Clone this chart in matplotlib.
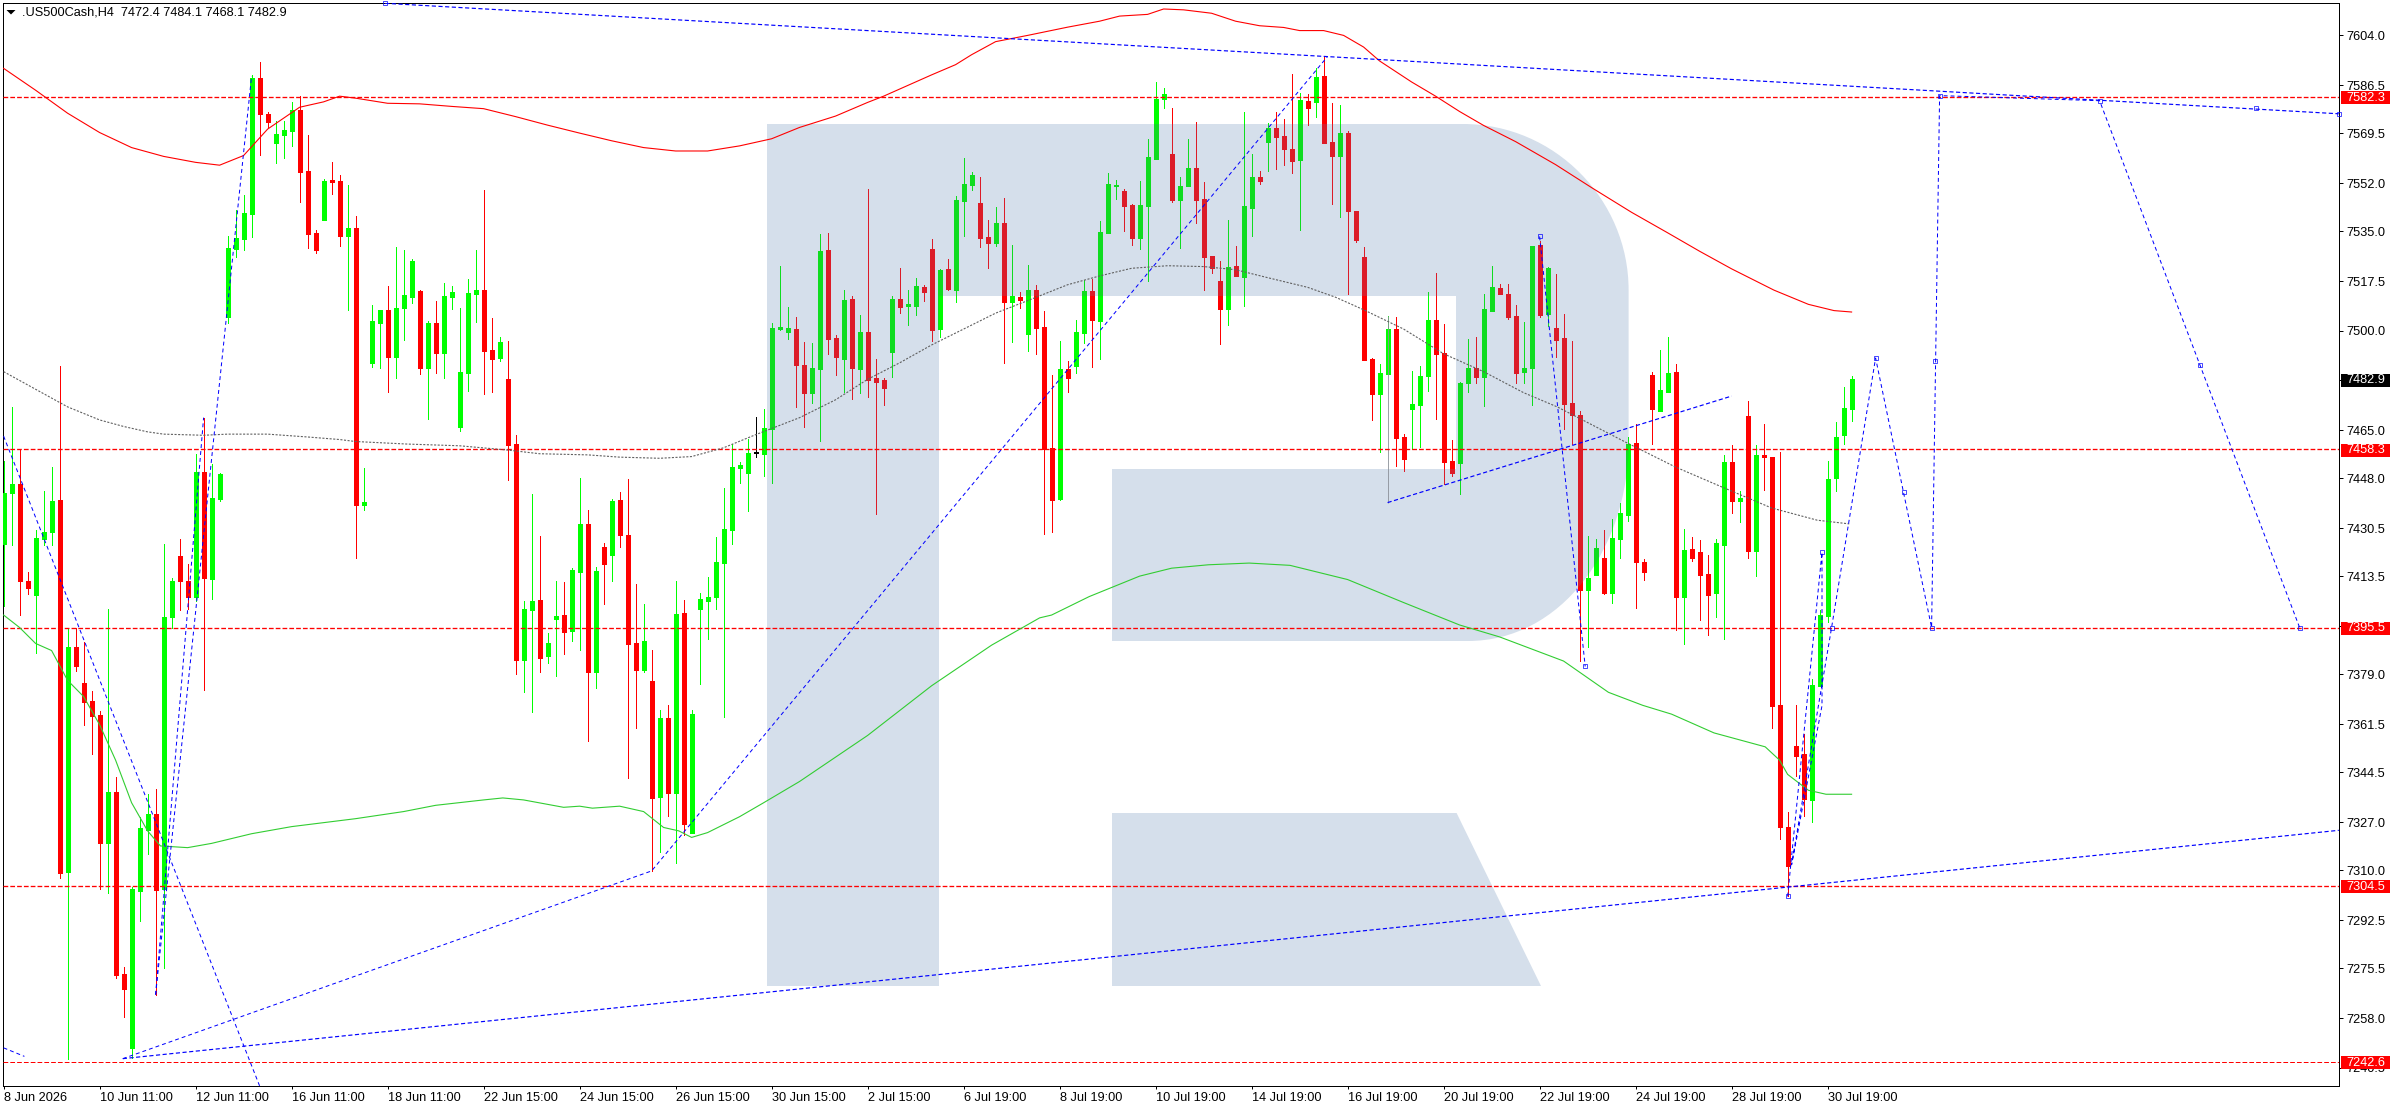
import matplotlib
matplotlib.use("Agg")
import matplotlib.pyplot as plt
from matplotlib.path import Path
from matplotlib.patches import PathPatch, Rectangle, Polygon
from matplotlib.transforms import Affine2D, blended_transform_factory

plt.rcParams['font.family'] = ['Liberation Sans', 'DejaVu Sans']
plt.rcParams['lines.scale_dashes'] = False

opens = [7425,7443,7446,7412,7406.8,7426.7,7429,7440.4,7309.5,7388.7,
7376,7369.7,7364.8,7319.5,7337.6,7273.4,7247.6,7302.7,7324.3,7330,
7303.3,7399.3,7420.7,7412,7406.1,7450.3,7412.6,7440.8,7505,7528.9,
7532.4,7541,7589,7576.4,7566.1,7569,7570.4,7577.7,7556.3,7534.5,
7539,7553,7552.8,7533.4,7536.2,7438.6,7488.6,7502.7,7507.3,7490.7,
7508,7512,7514,7486.9,7502.7,7492.2,7512,7466.2,7485.1,7512.9,
7514.3,7493.2,7490.4,7483,7460.2,7384.1,7401.8,7405.3,7385.6,7398.4,
7399.9,7394.3,7415.2,7432,7380,7424,7421,7440.4,7428.2,7389.9,
7380.6,7376.7,7335.8,7363.6,7337.3,7400.7,7323.3,7402,7404.9,7406.3,
7418.4,7429.9,7451.7,7450,7456.8,7456.6,7465.4,7500.6,7499.7,7500.6,
7487.9,7478.2,7486.5,7528.5,7497.5,7490.1,7511.2,7486.5,7499.6,7483.3,
7482.6,7492.6,7511.2,7508.8,7508.8,7515.5,7528.9,7500.7,7521.8,7514.4,
7545.7,7551.3,7545,7533,7530.9,7538,7510.2,7512,7498.7,7514.3,
7501.3,7458.6,7440.8,7486.5,7487.7,7499.3,7514,7503.4,7534.5,7550.8,
7549.2,7544.3,7532.7,7544,7560.5,7581.6,7562.3,7546,7551,7557.3,
7546.4,7526.4,7517.5,7507.7,7522.8,7519,7543.3,7554.2,7566.5,7571.4,
7568.6,7564,7560.2,7581,7580.6,7589.7,7566.5,7561.5,7569.6,7542.2,
7526,7490.1,7477.8,7484.9,7500.7,7462.6,7472.3,7473.9,7484.1,7503.8,
7492.2,7454.2,7453.5,7481.6,7486.9,7483.8,7506.9,7515,7512.9,7505.2,
7485.5,7486.9,7530.2,7505.9,7501,7497.5,7474.4,7470.4,7408.6,7413.9,
7420,7407.8,7426.7,7435.1,7460.4,7418.6,7484.4,7471.9,7478.5,7485.5,
7406.4,7423,7422,7414.2,7407.6,7424.5,7453.8,7440.1,7470,7422.3,
7456.3,7455.6,7368.3,7325.4,7353.8,7351,7334.8,7375,7399.7,7448.2,
7463.2,7472.4]

highs = [7454,7473,7458.5,7415,7430,7443.6,7452,7487.5,7395.5,7395.5,
7390.3,7373.1,7366,7402,7343,7275.9,7304,7328.9,7337,7338.8,
7425,7413,7426.7,7418,7456.6,7469.4,7453,7450,7533.4,7542.5,
7547.7,7590,7594.7,7577,7573.7,7574,7580.6,7582.6,7569,7535.5,
7553.5,7559.4,7555,7551.3,7540.5,7451.7,7509,7507.3,7515.8,7529.5,
7528.5,7525.3,7514.3,7503.4,7510.6,7516.8,7515.8,7508,7518.3,7528.5,
7549.6,7504.6,7497.8,7496.5,7463.2,7404.9,7442.4,7427.8,7393.7,7411.8,
7411.4,7416.6,7448.2,7436.9,7416.9,7425.4,7440.7,7443.3,7447.7,7410.9,
7403.9,7387.7,7366.5,7368.1,7412,7405.3,7366.5,7407.6,7413.4,7427.3,
7444.5,7460,7453.8,7462,7469.7,7472.3,7502.7,7522.8,7508.4,7504.7,
7496.2,7495.6,7534.2,7534.5,7498.6,7514.3,7512.3,7505.6,7550,7490,
7483.4,7512.3,7522.1,7514.3,7518.7,7516.2,7532.4,7521.8,7525.3,7547.3,
7560.9,7555.9,7554.2,7539,7543.5,7546.8,7530.2,7513.7,7523,7516.2,
7506.8,7484.4,7496.3,7489.4,7503.7,7518,7518.4,7538.6,7555.4,7553,
7550,7544.8,7552.9,7567.5,7587.6,7585.5,7578.5,7554.2,7567.5,7573.4,
7552.3,7526.4,7524.5,7539,7529.9,7577.1,7562.3,7556.3,7573,7577.2,
7574.7,7590.4,7583.7,7583.5,7592.6,7596.6,7580.1,7579.5,7570.4,7542.2,
7529.5,7490.4,7488.4,7505.2,7504.7,7463.6,7485.9,7487.5,7513.7,7520.4,
7502.5,7461.6,7482.1,7497.1,7497.8,7512.8,7522.8,7516.4,7516.4,7509,
7503.1,7529.9,7531.7,7522.6,7519.9,7505.9,7496.5,7471.7,7427.7,7426.7,
7429.9,7433.7,7439.5,7462.6,7467.3,7419.6,7485.6,7493.1,7497.8,7488.4,
7430.2,7427.4,7426.2,7421,7426.7,7456.3,7459.8,7443.5,7475.3,7459.7,
7467,7455.6,7457.3,7330.5,7368.1,7357.9,7377.5,7401.8,7454.1,7468,
7480.3,7484.1]

lows = [7403,7424.5,7400,7407.4,7386.6,7424.5,7424.5,7307.4,7243.7,7380.2,
7361.3,7351,7303.6,7302,7272,7258.4,7244.1,7292.3,7315.8,7266,
7275.6,7395.2,7401.8,7402,7405,7373.4,7405.5,7440,7502.8,7526,
7528.6,7533,7562,7571.6,7558.9,7561,7565,7545.2,7529.3,7527.4,
7539,7548.2,7529.9,7507.3,7419.9,7437,7487.2,7486.9,7478.5,7483.4,
7496.6,7509.6,7484.6,7469,7485.1,7483.4,7507.7,7464.7,7478.8,7503.1,
7477.9,7478.5,7489.4,7447.5,7379.2,7372.9,7365.9,7379.8,7383.1,7378.5,
7386.2,7390.8,7387.7,7355.7,7374.2,7403.9,7411.8,7424,7342.6,7360.1,
7380,7309.8,7316.6,7329.1,7312.7,7322.6,7323.3,7375.7,7391.6,7402,
7364,7424.9,7446.4,7436.5,7455.7,7449,7446.4,7500.3,7497.2,7473.2,
7466,7474.4,7461.2,7491.9,7484.4,7478.4,7476,7478.2,7476.6,7435.5,
7473.9,7483.8,7506.2,7502.1,7505.6,7510.5,7496.5,7497.8,7514.3,7510.2,
7533.4,7549.6,7529.5,7522.1,7529.9,7488.6,7496.2,7508.1,7492.9,7491.9,
7428.5,7429.2,7440.4,7478.5,7485.3,7495.8,7487.4,7490.1,7534.5,7546.4,
7535.1,7530.2,7528.9,7517.5,7560.5,7578.5,7545.2,7529.3,7551,7538,
7514.3,7520.3,7495.3,7502.1,7519.3,7508.7,7533.4,7551.7,7556.3,7557,
7558.5,7555.6,7535.5,7572.6,7575.1,7566.1,7544.7,7540.1,7513,7531.4,
7489.7,7468.6,7457.3,7484.9,7452.5,7450.7,7458.5,7459.1,7478.8,7468.8,
7446.1,7448.9,7442.6,7478.4,7481.6,7473.5,7506.9,7513,7504,7481.6,
7481.6,7474,7505,7501.8,7490.6,7465.4,7460.1,7383.7,7388.7,7413.9,
7407.4,7404.3,7420,7433,7402.4,7412.1,7460.3,7471.9,7478.5,7394.7,
7389.6,7419,7398.3,7392.7,7399.3,7391.4,7435.8,7432.6,7419.9,7413.6,
7443.9,7360.3,7321.1,7300.8,7343.2,7329.2,7327,7375,7397.4,7443.6,
7460.3,7468.1]

closes = [7443,7446,7412,7409.3,7427,7429,7440,7308.9,7388.7,7382,
7369.4,7364.4,7319.5,7337.6,7273,7268.4,7303.3,7325,7330,7303,
7399.3,7412,7412,7406.4,7450.3,7413,7441,7449.5,7529,7532.7,
7541.5,7589,7576.4,7573.5,7569.3,7570.8,7577.7,7556,7534.2,7528.6,
7552.8,7552.4,7533.4,7536.2,7438.6,7439.8,7503.4,7507.3,7490.7,7508,
7512.7,7524.6,7486.9,7502.7,7492.2,7512.3,7513.7,7485.5,7513.3,7514.3,
7492.9,7490.1,7496.1,7459.8,7384.1,7402,7404.9,7384.8,7389.9,7399.7,
7393.9,7415.9,7432,7380,7415.5,7418,7440.1,7428,7389.6,7380.6,
7390.6,7335.5,7363.6,7337.3,7400.3,7326.4,7365.1,7405.6,7406.3,7418.6,
7430.2,7452.1,7452.7,7457,7456.8,7465.7,7501,7501.2,7500.8,7488.1,
7478.2,7486.9,7528.1,7497.1,7490.7,7510.8,7486.9,7499.6,7482.8,7482.1,
7479.9,7511.2,7508.4,7509.1,7515.8,7513.7,7500.3,7521.5,7514.8,7546.1,
7551.7,7554.9,7532.7,7530.9,7538,7510,7512.3,7510.8,7514.3,7501,
7458.2,7440.5,7486.5,7483.4,7499.6,7514,7503.8,7534.9,7551.7,7551.2,
7544,7532.7,7544.3,7561.2,7581.6,7583.3,7546,7551,7557.3,7546,
7525.8,7522,7507.7,7522.4,7519.3,7544,7554.2,7552.7,7571.4,7568.3,
7564,7559.8,7581.2,7578.5,7589.3,7566.1,7561.5,7569.6,7542,7532,
7489.7,7477.8,7485.1,7500.7,7462.3,7454.8,7474.3,7484.1,7503.8,7491.9,
7453.8,7450,7481.6,7486.9,7483.8,7507.7,7515.4,7513,7505,7485.1,
7486.9,7529.9,7505.6,7522.1,7496.6,7474.3,7470.2,7408.6,7413,7423.5,
7407.6,7427,7435.8,7460.2,7418.6,7415.2,7472.5,7479,7485.3,7406.1,
7422.7,7420,7414,7406.8,7425.2,7453.8,7440.1,7441,7422.3,7456.3,
7455.6,7367.8,7325.1,7311.4,7350.3,7335.1,7375.4,7399.9,7447.7,7462.6,
7472.8,7482.9]

ma_slow_x = [0,4,8,12,16,20,24,27,30,33,37,40,42,44,48,52,56,60,64,68,72,76,80,84,88,92,96,99.5,104,108,110,116,119,121,124,128,133,137,139.5,143,145,147.5,151,154,157,160,162,165,167.5,170,172,176,179,182,185,189,194,198.5,203.5,208,212,216,221.3,225.6,228.8,231]
ma_slow_y = [7592.4,7584.7,7576.6,7569.8,7564.5,7561.4,7559.3,7558.3,7561.7,7571,7578.7,7580.6,7582.6,7581.9,7580.1,7579.9,7579,7578.2,7575.4,7572.4,7569.6,7566.9,7564.5,7563.3,7563.3,7565.1,7567.6,7571.6,7575.6,7580.4,7582.6,7590.1,7593.7,7597.2,7601.8,7604,7606.9,7609,7610.8,7611.4,7613.3,7613,7611.8,7609,7607.4,7606.8,7605.7,7605.7,7604,7599.9,7595,7587.6,7582.6,7577.2,7572.3,7566.6,7558.5,7550.4,7541.7,7534.5,7528,7521.8,7514.3,7509.3,7507.1,7506.6]

ma_mid_x = [0,4,8,12,15,18,20,25,28,33,38,42,44,50.5,57,63,67,73,77,82,86,90,94,99.5,104,108,112,116,120,124,128,133,137,141,145.5,150,154,158,163,166.5,170,175,180,185,190,194.2,202.8,209,214.7,221,226.7,230.7]
ma_mid_y = [7485.6,7479.4,7473.2,7468.6,7466.3,7464.4,7463.6,7463.2,7463.6,7463.6,7462.6,7461.7,7461,7460.1,7459.5,7458,7456.7,7456.3,7455.5,7455.1,7455.7,7458.8,7463.4,7469.4,7475.7,7482.9,7488.7,7495,7500.6,7506.2,7510.6,7516.2,7519.3,7522,7522.9,7522.6,7521.5,7518.7,7515.3,7511.8,7507.4,7500.6,7491.9,7485.6,7478.2,7473.2,7460.7,7452,7445.1,7437.6,7433.3,7432]

ma_fast_x = [0,2,4,6,8,10,12,14,16,18,19.6,23,26,31,36,44,50,54,60,62.4,65,70,72,73.6,77,80,82.5,84.4,86,88,92,95,99.5,108,116,123.5,129.5,131,135.7,142,146,150.6,155.7,160.8,168,175,182,187,195,200.6,204.9,208.5,213.8,220.2,222,223,225.6,227.8,231]
ma_fast_y = [7399.9,7395.5,7389.9,7387.4,7376.9,7371.2,7361.3,7348.8,7333.8,7323.9,7318.6,7318,7319.5,7322.9,7325.4,7328.2,7330.7,7332.9,7334.8,7335.5,7334.8,7332.2,7332.6,7331.9,7332.6,7330.7,7325.1,7323.9,7321.6,7323.3,7328.9,7333.8,7341.3,7357.5,7375,7389.3,7398.9,7399.9,7406.4,7413.6,7416.4,7417.6,7418.2,7417.4,7412.4,7404.3,7396.4,7392.2,7383.7,7372.7,7368.1,7365,7358.4,7353.5,7348.8,7343.8,7338.2,7336.8,7336.8]

levels_heavy = [7582.3, 7458.3, 7395.5, 7304.5]
level_thin = 7242.6
last_price = 7482.9

# trend lines, as (bar, price) pairs
trend_upper_x, trend_upper_y = [47.7, 291.9], [7615.3, 7576.4]
trend_lower_x, trend_lower_y = [14.9, 291.9], [7243.7, 7324.1]
channel_x, channel_y = [14.9, 81, 165.5], [7243.7, 7309.8, 7596.6]
fall_x, fall_y = [0, 32], [7462.9, 7234.1]
stub_x, stub_y = [0, 2.6], [7247.5, 7244.5]
rise_a_x, rise_a_y = [19, 25], [7266.2, 7469.4]
rise_b_x, rise_b_y = [19, 31], [7266.2, 7589.7]
mid_trend_x, mid_trend_y = [173, 216], [7439.5, 7477]
drop_x, drop_y = [192, 197.7], [7533.2, 7381.8]
forecast_x = [223, 227.3, 227.3, 223.5, 228.5, 234, 241, 242, 262, 287]
forecast_y = [7300.8, 7422, 7368, 7312, 7395.5, 7490.4, 7395.5, 7582.8, 7581, 7395.5]
node_x = [47.7, 192, 197.7, 223, 227.3, 228.5, 234, 237.6, 241, 241.4, 242, 262, 274.5, 281.5, 287, 291.9]
node_y = [7615.3, 7533.2, 7381.8, 7300.8, 7422, 7395.5, 7490.4, 7443.2, 7395.5, 7489.5, 7582.8, 7581, 7488.1, 7578.6, 7395.5, 7576.4]

xtick_labels = ["8 Jun 2026","10 Jun 11:00","12 Jun 11:00","16 Jun 11:00","18 Jun 11:00","22 Jun 15:00",
                "24 Jun 15:00","26 Jun 15:00","30 Jun 15:00","2 Jul 15:00","6 Jul 19:00","8 Jul 19:00",
                "10 Jul 19:00","14 Jul 19:00","16 Jul 19:00","20 Jul 19:00","22 Jul 19:00","24 Jul 19:00",
                "28 Jul 19:00","30 Jul 19:00"]
ytick_values = [7604.0,7586.5,7569.5,7552.0,7535.0,7517.5,7500.0,7482.5,7465.0,7448.0,7430.5,7413.5,
                7396.0,7379.0,7361.5,7344.5,7327.0,7310.0,7292.5,7275.5,7258.0,7240.5]
header = ".US500Cash,H4  7472.4 7484.1 7468.1 7482.9"

W, H = 2396, 1110
fig = plt.figure(figsize=(W/100, H/100), dpi=100, facecolor='white')
L, R, T, B = 2.5, 2339.0, 2.5, 1086.0
ax = fig.add_axes([L/W, 1-B/H, (R-L)/W, (B-T)/H])
ax.set_xlim((L-3.6)/8, (R-3.6)/8)
ax.set_ylim(7604-(B-35.4)/2.84, 7604+(35.4-T)/2.84)
ax.set_facecolor('white')
for s in ax.spines.values():
    s.set_linewidth(0.72); s.set_color('black')

px = Affine2D().scale(1, -1).translate(0, H)

# watermark "R"
M, LN, C4, CL = Path.MOVETO, Path.LINETO, Path.CURVE4, Path.CLOSEPOLY
wm_path = [
    ((767,124),M),((1463,124),LN),
    ((1555,124),C4),((1628.6,200),C4),((1628.6,290),C4),
    ((1628.6,442),LN),
    ((1628.6,550),C4),((1560,641),C4),((1468,641),C4),
    ((1112,641),LN),((1112,469),LN),((1456,469),LN),((1456,296),LN),((939,296),LN),
    ((939,986),LN),((767,986),LN),((767,124),CL),
    ((1112,813),M),((1456.6,813),LN),((1541,986),LN),((1112,986),LN),((1112,813),CL),
]
wm = PathPatch(Path([p for p, _ in wm_path], [c for _, c in wm_path]), transform=px,
               facecolor='#D5DFEB', edgecolor='none', zorder=0.5)
ax.add_patch(wm)

def draw_candles(up, down, doji, z, clip=None):
    n = len(opens)
    xs = list(range(n))
    cols = [up if closes[i] > opens[i] else down if closes[i] < opens[i] else doji for i in xs]
    w = ax.vlines(xs, lows, highs, colors=cols, linewidth=0.72, antialiased=False, zorder=z)
    b_lo = [min(opens[i], closes[i]) for i in xs]
    b_hi = [max(max(opens[i], closes[i]), min(opens[i], closes[i]) + 0.5) for i in xs]
    b = ax.vlines(xs, b_lo, b_hi, colors=cols, linewidth=3.6, antialiased=False, zorder=z)
    b.set_capstyle('butt'); w.set_capstyle('butt')
    if clip is not None:
        w.set_clip_path(clip); b.set_clip_path(clip)

draw_candles('#00FF00', '#FF0000', 'black', 3)
draw_candles('#10DC20', '#DC1C28', 'black', 3.1, clip=wm)
ax.vlines([173], [7439.5], [7505.2], colors='#8A9098', linewidth=0.6, zorder=3.2)

# levels
dash = (0, (3.4, 1.5))
for v in levels_heavy:
    ax.axhline(v, color='#FF0000', lw=0.95, ls=dash, zorder=4)
ax.axhline(level_thin, color='#FF0000', lw=0.72, ls=dash, zorder=4)

# moving averages
ax.plot(ma_slow_x, ma_slow_y, color='#FF0000', lw=0.8, zorder=5)
ax.plot(ma_fast_x, ma_fast_y, color='#32CD32', lw=0.8, zorder=5)
ax.plot(ma_mid_x, ma_mid_y, color='#606060', lw=0.8, ls=(0, (1.5, 1.1)), zorder=5)

# trend lines
heavy = dict(color='#0000FF', lw=0.85, ls=(0, (3.0, 1.8)), zorder=6)
thin = dict(color='#0000FF', lw=0.72, ls=(0, (2.8, 2.2)), zorder=6)
ax.plot(trend_upper_x, trend_upper_y, **heavy)
ax.plot(trend_lower_x, trend_lower_y, **heavy)
ax.plot(mid_trend_x, mid_trend_y, **heavy)
ax.plot(stub_x, stub_y, **thin)
ax.plot(channel_x, channel_y, **thin)
ax.plot(fall_x, fall_y, **thin)
ax.plot(rise_a_x, rise_a_y, **thin)
ax.plot(rise_b_x, rise_b_y, **thin)
ax.plot(drop_x, drop_y, **thin)
ax.plot(forecast_x, forecast_y, **thin)
ax.plot(node_x, node_y, ls='none', marker='s', ms=2.4, mfc='none', mec='#0000FF', mew=0.5, zorder=6, clip_on=False)

# ticks
ax.yaxis.tick_right()
ax.set_yticks(ytick_values, [f"{v:.1f}" for v in ytick_values])
ax.set_xticks(list(range(0, 12*len(xtick_labels), 12)), xtick_labels)
ax.tick_params(axis='y', length=2.9, width=0.72, pad=2.6, labelsize=9.2, labelcolor='black')
ax.tick_params(axis='x', length=2.5, width=0.72, pad=1.8, labelsize=9.2, labelcolor='black')
for t in ax.get_xticklabels():
    t.set_ha('left')

# price tags
tag = blended_transform_factory(px, ax.transData)
def price_tag(v, bg):
    ax.add_patch(Rectangle((2341, v-2.6), 49, 4.6, transform=tag, facecolor=bg, edgecolor='none',
                           clip_on=False, zorder=20))
    ax.text(2346.5, v-0.3, f"{v:.1f}", transform=tag, color='white', fontsize=9.2, va='center',
            ha='left', clip_on=False, zorder=21)
for v in levels_heavy + [level_thin]:
    price_tag(v, '#FF0000')
price_tag(last_price, '#000000')

# header
fig.text(21.6/W, 1-12.5/H, header, fontsize=9.2, color='black', va='center', ha='left')
fig.add_artist(Polygon([(6.5, 10), (15.5, 10), (11, 14.5)], closed=True, transform=px,
                       facecolor='black', edgecolor='none'))

fig.savefig('out.png', dpi=100, facecolor='white')
